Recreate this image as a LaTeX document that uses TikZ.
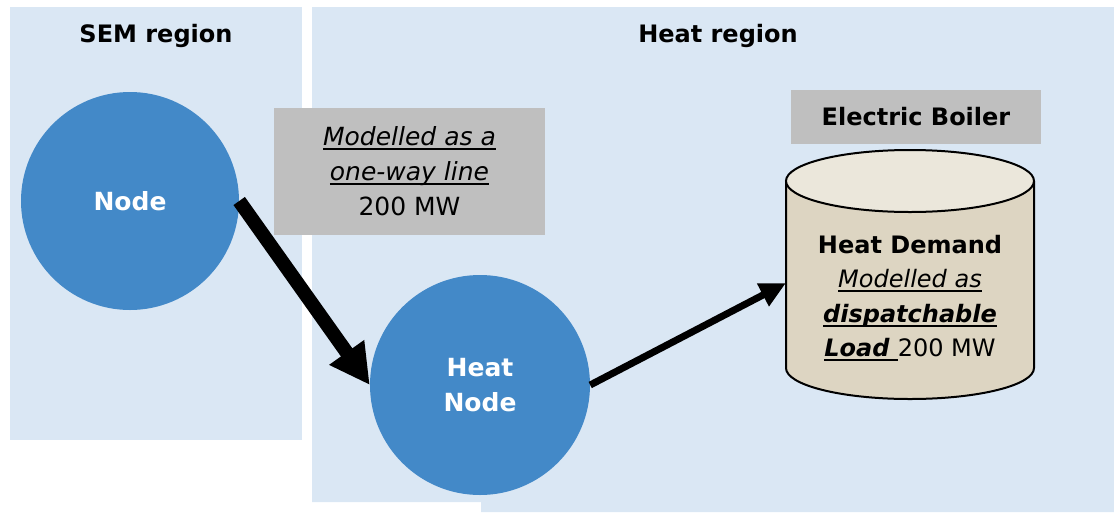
\documentclass[tikz,border=0pt]{standalone}
\usepackage{fontspec}
\setmainfont{DejaVu Sans}
\usetikzlibrary{arrows.meta}
\definecolor{regionblue}{HTML}{DAE7F4}
\definecolor{nodeblue}{HTML}{4389C8}
\definecolor{labelgrey}{HTML}{BFBFBF}
\definecolor{tankside}{HTML}{DDD5C2}
\definecolor{tanktop}{HTML}{EBE7DB}
% underline with a fixed rule, drawn below the baseline
\newcommand\myul[1]{\setbox0\hbox{#1}\rlap{\rule[-4.5pt]{\wd0}{1.8pt}}\box0\relax}
\tikzset{
  regiontitle/.style={font=\fontsize{24}{30}\selectfont\bfseries, inner sep=0pt},
  bus/.style={circle, fill=nodeblue, text=white, align=center, inner sep=0pt,
    font=\fontsize{25}{35}\selectfont\bfseries},
  greylabel/.style={fill=labelgrey, inner sep=0pt, align=center,
    font=\fontsize{25}{35}\selectfont},
  fatarrow/.style={line width=14pt, -{Triangle[length=40pt,width=40pt]}},
  slimarrow/.style={line width=7pt, -{Triangle[length=26pt,width=24pt]}},
}
\begin{document}
\begin{tikzpicture}[x=1pt,y=-1pt]
\useasboundingbox (0,0) rectangle (1114,512);
% region backgrounds
\fill[regionblue] (10,7) rectangle (302,440);
\fill[regionblue] (312,7) -- (1114,7) -- (1114,512) -- (481,512) -- (481,502) -- (312,502) -- cycle;
\node[regiontitle] (semtitle) at (156,36) {SEM region};
\node[regiontitle] (heattitle) at (718,36) {Heat region};
% buses
\node[bus, minimum size=218pt] (node) at (130,201) {Node};
\node[bus, minimum size=220pt] (hnode) at (480,385) {Heat\\Node};
% labels
\node[greylabel, minimum width=271pt, minimum height=127pt] (linelabel) at (409.5,171)
  {\myul{\itshape Modelled as a}\\\myul{\itshape one-way line}\\200 MW};
\node[greylabel, minimum width=250pt, minimum height=54pt, font=\fontsize{24}{30}\selectfont\bfseries]
  (boiler) at (916,117) {Electric Boiler};
% storage cylinder
\fill[tankside] (786,181) -- (786,368) arc[start angle=180,end angle=360,x radius=124pt,y radius=31pt] -- (1034,181) -- cycle;
\draw[line width=2pt] (786,181) -- (786,368) arc[start angle=180,end angle=360,x radius=124pt,y radius=31pt] -- (1034,181);
\filldraw[fill=tanktop, line width=2pt] (910,181) ellipse[x radius=124pt, y radius=31pt];
\node[align=center, inner sep=0pt, font=\fontsize{24}{34.5}\selectfont] (demand) at (910,298)
  {\textbf{Heat Demand}\\\myul{\itshape Modelled as}\\\myul{\bfseries\itshape dispatchable}\\\myul{\bfseries\itshape Load }200 MW};
\coordinate (tankin) at (786,283);
% flows
\draw[fatarrow] (node.east) -- (hnode.west);
\draw[slimarrow] (hnode.east) -- (tankin);
\end{tikzpicture}
\end{document}
